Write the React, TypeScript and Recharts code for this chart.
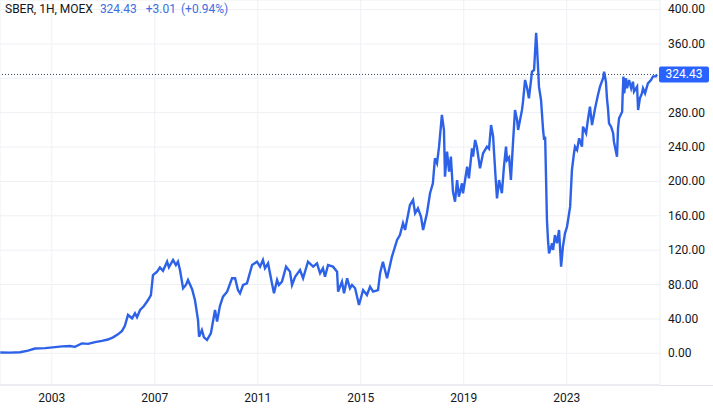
import React from 'react';
import { LineChart, Line, XAxis, YAxis, CartesianGrid, ReferenceLine } from 'recharts';

// decimal years
const years = [
  2001.0, 2001.38, 2001.77, 2002.08, 2002.35, 2002.74, 2003.13, 2003.4, 2003.71, 2003.9,
  2004.17, 2004.41, 2004.68, 2004.95, 2005.18, 2005.38, 2005.57, 2005.73, 2005.84, 2005.96,
  2006.12, 2006.23, 2006.31, 2006.43, 2006.58, 2006.74, 2006.85, 2006.93, 2007.09, 2007.2,
  2007.32, 2007.48, 2007.55, 2007.71, 2007.82, 2007.9, 2007.98, 2008.1, 2008.21, 2008.29,
  2008.45, 2008.56, 2008.68, 2008.72, 2008.83, 2008.91, 2009.03, 2009.18, 2009.34, 2009.42,
  2009.53, 2009.65, 2009.81, 2010.0, 2010.12, 2010.23, 2010.31, 2010.43, 2010.58, 2010.78,
  2010.97, 2011.09, 2011.2, 2011.28, 2011.4, 2011.55, 2011.63, 2011.75, 2011.82, 2011.94,
  2012.1, 2012.25, 2012.33, 2012.45, 2012.64, 2012.76, 2012.95, 2013.15, 2013.3, 2013.42,
  2013.53, 2013.61, 2013.73, 2013.92, 2014.08, 2014.12, 2014.27, 2014.35, 2014.47, 2014.58,
  2014.66, 2014.78, 2014.93, 2015.09, 2015.24, 2015.36, 2015.48, 2015.67, 2015.75, 2015.86,
  2016.02, 2016.21, 2016.41, 2016.52, 2016.64, 2016.72, 2016.91, 2017.03, 2017.11, 2017.22,
  2017.34, 2017.42, 2017.57, 2017.69, 2017.8, 2017.88, 2017.96, 2018.04, 2018.15, 2018.23,
  2018.27, 2018.35, 2018.43, 2018.5, 2018.58, 2018.66, 2018.74, 2018.81, 2018.93, 2018.97,
  2019.13, 2019.2, 2019.32, 2019.36, 2019.44, 2019.51, 2019.63, 2019.75, 2019.9, 2019.98,
  2020.06, 2020.14, 2020.17, 2020.25, 2020.29, 2020.37, 2020.48, 2020.56, 2020.64, 2020.68,
  2020.76, 2020.83, 2020.91, 2020.99, 2021.07, 2021.11, 2021.26, 2021.3, 2021.38, 2021.46,
  2021.53, 2021.65, 2021.73, 2021.81, 2021.84, 2021.92, 2022.0, 2022.08, 2022.12, 2022.16,
  2022.23, 2022.27, 2022.31, 2022.43, 2022.47, 2022.54, 2022.62, 2022.7, 2022.78, 2022.85,
  2022.93, 2023.01, 2023.13, 2023.2, 2023.28, 2023.32, 2023.4, 2023.48, 2023.59, 2023.63,
  2023.75, 2023.82, 2023.9, 2023.98, 2024.1, 2024.21, 2024.29, 2024.41, 2024.45, 2024.52,
  2024.56, 2024.6, 2024.64, 2024.72, 2024.8, 2024.83, 2024.91, 2024.95, 2024.99, 2025.03,
  2025.15, 2025.17, 2025.2, 2025.23, 2025.3, 2025.34, 2025.42, 2025.5, 2025.57, 2025.61,
  2025.73, 2025.77, 2025.84, 2025.92, 2025.96, 2026.04, 2026.15, 2026.27, 2026.35, 2026.46,
  2026.5,
];

// SBER close, RUB
const prices = [
  1.0, 0.8, 1.2, 3, 5.5, 6, 7.2, 8, 8.5, 7.5,
  11.5, 11, 13, 14.5, 16, 18.5, 22, 26, 32, 44.6,
  40.7, 46.5, 41.9, 50.4, 55, 62, 67.8, 91, 95, 100,
  96, 106.6, 100, 108.6, 102.7, 106.6, 96.9, 75.6, 79.5, 85.3,
  74.5, 62, 38.7, 19.3, 27, 18.6, 15.5, 23.3, 50.4, 36.8,
  55, 65.9, 71.7, 87.3, 87.3, 73.6, 69.8, 79.5, 81.4, 102.7,
  106.6, 100.8, 108.6, 98.9, 104.7, 81.4, 69.8, 85.3, 79.5, 83.3,
  100.8, 95, 79.5, 89, 96.9, 87.3, 106.6, 100.8, 104.7, 93.1,
  98.9, 89, 102.7, 100.8, 95, 71.7, 83.3, 69.8, 87.3, 75.6,
  79.5, 75.6, 56.2, 73.6, 67.8, 77.5, 71.7, 73.6, 93.1, 106.6,
  87.3, 112.4, 131.8, 137.6, 151.3, 143.5, 172.5, 178.4, 162.9, 168.7,
  158.9, 143.5, 162.9, 186.2, 197.8, 226.9, 221, 240.4, 277.3, 259.8,
  205.5, 234.6, 211.3, 228.8, 188, 176.4, 201.6, 182.2, 197.8, 186.2,
  217.1, 203.6, 238.5, 228.8, 248.2, 240, 215.2, 232.7, 240.4, 238,
  265.6, 252, 236.5, 197.8, 180.3, 201.6, 186.2, 217.1, 240.4, 224.9,
  228, 201.6, 244.3, 283.1, 271.4, 259.8, 283.1, 292.8, 318, 308.3,
  296.7, 327.6, 329.6, 373, 358.7, 310.2, 294.7, 259.8, 248.2, 252,
  155.1, 131.8, 116.3, 128, 120.2, 137.6, 128, 143.5, 100.8, 124,
  139.6, 147.3, 170.6, 213.3, 232.7, 240.4, 236.5, 250.1, 240.4, 263.7,
  256, 271.4, 286.9, 265.6, 285, 300.5, 310.2, 320, 327.6, 316,
  296.7, 285, 267.6, 263.7, 256, 246.2, 234.6, 228.8, 261.8, 273.4,
  281.1, 300.5, 321.9, 302.5, 320, 308.3, 318, 308.3, 316, 304.4,
  310.2, 283.1, 296.7, 302.5, 308.3, 302.5, 314.1, 318, 322.2, 322.2,
  324.43,
];

const yearTicks = [2003, 2007, 2011, 2015, 2019, 2023];
const priceTicks = [0, 40, 80, 120, 160, 200, 240, 280, 320, 360, 400];
const lastPrice = 324.43;

const data = years.map((year, i) => ({ year, price: prices[i] }));

const FONT = 'Roboto, "Noto Sans", sans-serif';
const BLUE = '#2d62e8';

function PriceTick(props: any) {
  const { x, y, payload } = props;
  // 320 is hidden behind the last-price tag
  if (payload.value === 320) return null;
  return (
    <text x={x} y={y} dy={4} fill="#131722" fontSize={12} fontFamily={FONT} textAnchor="start">
      {Number(payload.value).toFixed(2)}
    </text>
  );
}

function PriceTag(props: any) {
  const vb = props.viewBox || {};
  const x = vb.x + vb.width;
  const y = vb.y;
  return (
    <g>
      <rect x={x - 1} y={y - 8} width={50} height={16} rx={2} fill="#2962ff" />
      <text x={x + 24} y={y + 4} fill="#ffffff" fontSize={12} fontFamily={FONT} textAnchor="middle">
        {lastPrice.toFixed(2)}
      </text>
    </g>
  );
}

export default function App() {
  return (
    <div style={{ position: 'absolute', left: 0, top: 0, width: 713, height: 410, background: '#fff', fontFamily: FONT }}>
      <LineChart width={713} height={410} data={data} margin={{ top: 0, right: 0, bottom: 0, left: 0 }}>
        <CartesianGrid stroke="#eef0f4" />
        <XAxis
          type="number"
          dataKey="year"
          domain={[2000.99, 2026.62]}
          allowDataOverflow
          ticks={yearTicks}
          tickFormatter={(v) => String(v)}
          height={25}
          axisLine={{ stroke: '#e0e3eb' }}
          tickLine={false}
          tick={{ fill: '#131722', fontSize: 12, fontFamily: FONT }}
        />
        <YAxis
          orientation="right"
          width={53}
          domain={[-36.9, 411.05]}
          allowDataOverflow
          ticks={priceTicks}
          axisLine={false}
          tickLine={false}
          tick={<PriceTick />}
        />
        <ReferenceLine y={lastPrice} stroke="#3b4a6b" strokeDasharray="1 2" label={<PriceTag />} />
        <Line
          type="linear"
          dataKey="price"
          stroke={BLUE}
          strokeWidth={2.4}
          dot={false}
          activeDot={false}
          isAnimationActive={false}
        />
      </LineChart>
      <div style={{ position: 'absolute', left: 660, top: 385, width: 53, height: 1, background: '#e0e3eb' }} />
      <div style={{ position: 'absolute', left: 5, top: 2, fontSize: 12, whiteSpace: 'nowrap', color: '#131722' }}>
        <span>SBER, 1H, MOEX</span>
        <span style={{ color: '#3d6ee0', marginLeft: 7 }}>324.43</span>
        <span style={{ color: '#3d6ee0', marginLeft: 9 }}>+3.01</span>
        <span style={{ color: '#3d6ee0', marginLeft: 5 }}>(+0.94%)</span>
      </div>
    </div>
  );
}
